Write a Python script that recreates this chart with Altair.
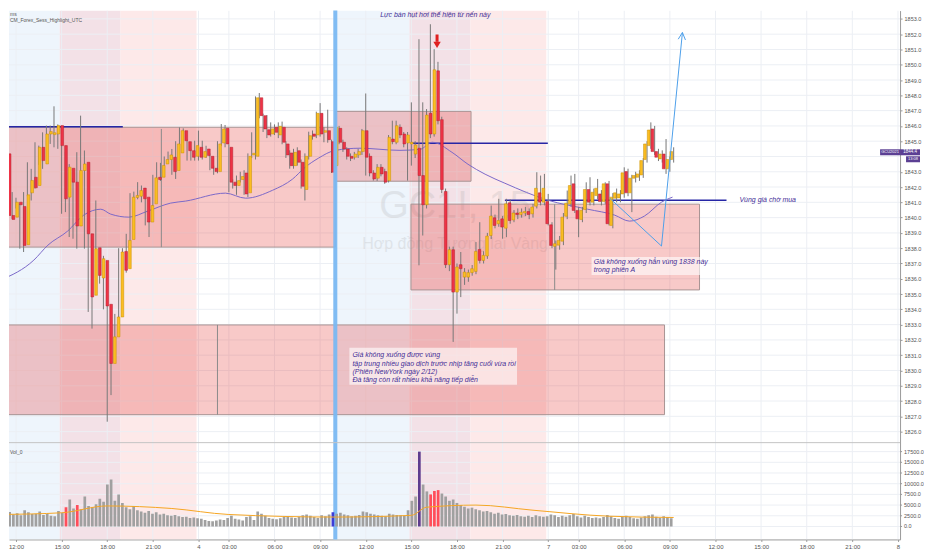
import altair as alt
import pandas as pd

# ---------------- data (15-minute candles, index 0 = 11:00 of first day) ----------------
opens = [1843.73,1844.17,1840.14,1840.03,1841.01,1840.73,1838.23,1841.62,1842.64,1842.10,
1844.60,1843.51,1845.47,1845.43,1845.47,1846.02,1844.71,1841.34,1843.23,1842.32,
1839.45,1843.08,1843.62,1838.94,1834.92,1838.03,1836.05,1837.20,1834.33,1830.46,
1832.20,1833.50,1837.79,1836.66,1838.57,1841.32,1841.40,1841.93,1841.34,1839.71,
1840.90,1842.64,1842.64,1843.51,1843.80,1843.95,1843.08,1844.23,1845.69,1844.97,
1844.38,1844.01,1844.60,1843.95,1844.49,1844.01,1843.23,1843.01,1844.88,1845.84,
1844.60,1842.32,1842.10,1842.49,1842.92,1841.62,1844.10,1844.01,1847.84,1846.67,
1845.75,1845.47,1845.91,1845.41,1845.91,1844.82,1844.23,1843.40,1844.38,1843.62,
1841.84,1844.01,1845.47,1845.41,1846.82,1845.58,1845.69,1844.97,1843.40,1845.84,
1844.93,1844.49,1844.01,1843.95,1844.10,1844.32,1845.69,1844.01,1842.92,1842.58,
1843.29,1843.01,1842.42,1845.14,1844.93,1845.91,1845.47,1844.88,1844.82,1844.16,
1844.54,1842.75,1840.84,1846.82,1845.47,1849.60,1846.41,1841.71,1836.92,1837.90,
1835.13,1836.92,1836.11,1836.11,1836.40,1836.48,1837.92,1837.20,1837.49,1838.83,
1839.99,1839.60,1839.92,1839.31,1840.97,1839.85,1840.30,1840.20,1840.30,1840.40,
1840.25,1840.75,1841.62,1841.01,1841.05,1839.53,1838.12,1838.20,1838.46,1840.09,
1840.90,1842.21,1840.47,1839.88,1840.53,1841.84,1841.01,1841.44,1841.55,1841.05,
1842.21,1839.49,1841.27,1841.29,1841.55,1843.01,1841.62,1842.58,1842.64,1842.79,
1843.80,1844.71,1845.80,1844.32,1843.84,1844.16,1843.19,1843.80]
highs = [1844.40,1844.28,1840.36,1841.67,1841.30,1840.90,1841.67,1843.62,1843.19,1844.93,
1844.71,1845.58,1846.02,1846.02,1847.28,1846.10,1844.80,1844.28,1843.50,1842.60,
1844.28,1846.67,1844.39,1839.20,1838.30,1841.12,1837.60,1837.50,1834.60,1832.40,
1833.70,1838.00,1838.00,1838.94,1841.60,1841.70,1842.32,1842.10,1841.50,1841.00,
1842.80,1843.62,1843.58,1844.00,1844.32,1844.49,1845.00,1845.90,1845.84,1845.10,
1844.50,1845.03,1845.69,1845.03,1844.70,1844.20,1843.40,1845.00,1846.12,1846.06,
1844.80,1842.50,1842.75,1843.00,1843.10,1844.20,1845.58,1847.93,1848.15,1846.80,
1846.71,1846.23,1846.10,1846.23,1846.28,1845.00,1844.40,1844.50,1844.60,1843.80,
1844.20,1845.62,1845.70,1846.93,1847.49,1845.90,1847.06,1845.10,1846.10,1846.00,
1845.10,1844.60,1844.20,1844.30,1844.50,1845.80,1848.12,1844.20,1843.10,1843.50,
1843.50,1843.20,1845.40,1846.34,1846.34,1846.10,1845.60,1845.60,1847.54,1845.00,
1851.67,1847.54,1847.10,1852.65,1851.02,1850.19,1846.60,1841.90,1838.10,1838.10,
1837.00,1837.75,1836.70,1836.60,1836.90,1838.40,1839.70,1837.80,1839.00,1840.79,
1840.20,1841.23,1840.10,1841.23,1841.20,1840.50,1840.60,1840.60,1840.70,1840.60,
1840.90,1842.97,1842.75,1842.86,1841.55,1839.70,1838.50,1838.80,1840.30,1841.77,
1842.75,1842.86,1840.70,1840.70,1842.31,1842.64,1841.90,1842.53,1841.80,1842.31,
1842.40,1841.60,1841.90,1841.80,1843.29,1843.20,1842.80,1843.00,1843.10,1843.90,
1845.00,1846.23,1846.00,1844.50,1844.40,1845.14,1844.00,1844.60]
lows = [1843.50,1839.45,1839.45,1839.92,1840.60,1837.97,1837.75,1841.40,1841.12,1841.90,
1843.45,1843.19,1844.71,1844.82,1844.60,1844.50,1840.25,1840.36,1838.73,1838.62,
1837.97,1842.90,1837.97,1833.83,1832.74,1836.00,1835.68,1834.00,1826.65,1828.39,
1831.90,1833.30,1836.44,1836.40,1838.30,1841.10,1841.20,1841.00,1839.49,1838.73,
1840.70,1842.30,1842.40,1843.30,1843.60,1842.80,1842.53,1844.00,1844.90,1843.73,
1843.73,1843.73,1843.73,1843.80,1843.90,1843.10,1842.80,1842.90,1844.70,1844.60,
1841.66,1841.90,1841.49,1842.30,1841.49,1841.35,1843.90,1843.80,1846.50,1845.60,
1845.20,1845.30,1845.40,1845.20,1844.80,1843.90,1843.20,1843.20,1843.40,1841.90,
1841.12,1843.80,1845.10,1845.20,1845.30,1844.93,1844.90,1842.92,1843.20,1844.80,
1844.30,1843.80,1843.70,1843.80,1843.90,1844.10,1842.75,1842.70,1842.42,1842.40,
1842.70,1842.21,1842.30,1844.80,1844.80,1845.20,1844.60,1842.42,1843.40,1843.90,
1836.88,1838.83,1840.60,1845.20,1845.30,1846.10,1841.60,1836.70,1836.50,1831.87,
1833.72,1834.80,1835.60,1835.80,1836.20,1836.30,1837.00,1837.00,1837.30,1838.60,
1839.30,1839.40,1838.62,1838.72,1839.60,1839.70,1839.90,1840.00,1840.10,1839.90,
1840.00,1840.60,1840.80,1840.80,1839.49,1838.00,1836.60,1837.90,1838.20,1839.90,
1840.70,1840.30,1838.72,1839.70,1840.30,1840.80,1840.80,1841.20,1840.80,1840.90,
1839.49,1839.30,1841.00,1841.00,1841.30,1841.40,1840.36,1842.30,1842.40,1842.60,
1843.60,1844.50,1844.10,1843.70,1843.60,1842.86,1843.00,1843.60]
closes = [1844.10,1840.14,1839.88,1841.01,1840.84,1838.18,1841.49,1842.43,1841.95,1844.60,
1843.73,1845.47,1845.63,1845.55,1846.02,1844.71,1841.23,1843.30,1842.32,1839.45,
1843.08,1843.51,1838.94,1834.81,1837.97,1836.22,1837.31,1834.22,1830.46,1832.20,
1833.50,1837.75,1836.55,1838.51,1841.34,1841.45,1841.77,1841.23,1839.71,1840.79,
1842.60,1842.49,1843.41,1843.80,1844.10,1843.01,1844.82,1845.69,1845.03,1844.38,
1843.95,1844.71,1843.95,1844.32,1844.06,1843.23,1843.01,1844.82,1845.80,1844.82,
1842.32,1842.10,1842.42,1842.69,1841.55,1844.01,1844.21,1847.84,1846.67,1845.80,
1845.41,1845.80,1845.58,1845.97,1844.93,1844.10,1843.40,1844.27,1843.62,1842.05,
1844.01,1845.36,1845.32,1846.82,1845.47,1845.69,1845.10,1842.97,1845.91,1844.93,
1844.49,1844.01,1843.88,1844.16,1844.32,1845.69,1843.95,1842.92,1842.53,1843.29,
1842.86,1842.32,1845.25,1844.97,1846.01,1845.41,1844.82,1845.41,1844.93,1844.75,
1842.75,1840.84,1846.71,1845.47,1849.67,1846.34,1841.84,1836.92,1837.90,1835.13,
1836.77,1836.66,1836.44,1836.40,1836.66,1837.79,1837.20,1837.53,1838.79,1840.10,
1839.49,1839.81,1839.38,1840.90,1839.81,1840.30,1840.20,1840.35,1840.40,1840.20,
1840.69,1841.92,1841.01,1841.92,1839.60,1838.18,1838.29,1838.51,1840.03,1840.94,
1842.10,1840.47,1839.92,1840.47,1841.84,1841.01,1841.66,1841.92,1841.05,1842.21,
1839.60,1841.34,1841.62,1841.55,1842.93,1841.62,1842.58,1842.75,1842.86,1843.73,
1844.82,1845.73,1844.32,1843.95,1844.16,1843.19,1843.80,1844.32]
volumes = [3000,3400,2800,3100,2600,3800,3300,2900,3000,3500,2700,3000,2500,2400,3600,3200,
4500,6300,4200,5000,4000,7000,4800,4500,5200,6500,5800,9800,11000,6000,7500,5500,
4500,4000,4800,3800,3500,3200,3600,3000,3300,2800,3000,2600,2500,2700,2400,2200,2300,2000,2100,1900,
1800,1500,1300,1200,1400,1600,1500,2000,2500,1800,1600,1400,2200,2400,1500,3500,3000,2500,
2000,1800,1700,1900,2200,2400,2100,2000,2300,2600,2800,2500,2200,2000,2600,2400,2800,3300,
3000,3200,2800,2600,2400,2500,2700,3500,3300,3000,2800,2600,2500,2400,3000,2800,2700,2600,2500,3800,
6000,7000,17500,9800,8200,7500,8300,8500,7700,7000,6000,6300,5500,
5000,4600,4200,4400,4000,3800,3500,3600,3300,3000,3200,2800,2900,2600,2500,2700,2400,2300,2500,2200,2600,2400,2300,
2400,2800,2600,2200,2500,2300,2600,2900,2400,2100,2500,2200,2000,2100,1900,2200,2700,2400,2000,1800,
2300,2500,2200,1900,1800,2100,2400,2600,2800,2300,2000,2400,2200,1900]
vol_red_idx = [16, 19, 113, 114, 115]
vol_purple_idx = [110]
vol_blue_idx = [87]

# moving average (index, price)
ma_i = [0,8.7,12.4,17.6,21.8,26.3,28.9,33.7,38.6,44.7,48.6,59.1,64.4,71.5,76.7,80.1,83.5,88,94.5,105,
        110.3,113.5,118.7,122.9,127.4,132.6,143.9,154.4,161.5,165.4,169.3,173.8,176.7]
ma_p = [1835.92,1837.22,1838.20,1839.12,1840.16,1840.55,1840.23,1840.03,1840.42,1840.95,1841.08,1841.60,
        1841.27,1841.79,1842.51,1843.30,1843.88,1844.40,1844.54,1844.40,1844.47,1844.93,1844.27,1843.49,
        1842.84,1842.25,1841.14,1840.55,1840.16,1839.77,1840.10,1841.01,1841.34]
vma_i = [0,16,28,45,60,88,108,112,125,140,160,177]
vma_v = [2800,3200,4800,4200,2800,2200,2600,4500,5000,3800,2400,2100]

# sessions
sess_s = [-5, 15.5, 31.5, 87.5, 107.5, 123.5]
sess_e = [15.5, 31.5, 51.5, 107.5, 123.5, 143.5]
sess_k = ["London", "Overlap", "NewYork", "London", "Overlap", "NewYork"]
# zones
zone_x1 = [-1, -1, 88.0, 107.9]
zone_x2 = [88.0, 174.6, 123.7, 183.8]
zone_p1 = [1845.91, 1832.98, 1846.95, 1840.88]
zone_p2 = [1838.07, 1827.11, 1842.38, 1835.27]
# horizontal levels
lvl_x1 = [-1, 108.2, 132.6]
lvl_x2 = [32.1, 143.9, 190.9]
lvl_p = [1845.95, 1844.86, 1841.14]
# thin vertical markers
vm_i = [42.24, 57.0, 145.7]
vm_p1 = [1845.80, 1832.98, 1840.88]
vm_p2 = [1838.07, 1827.11, 1835.27]
# projected path
path_i = [160.2, 173.8, 179.3]
path_p = [1841.27, 1838.14, 1852.11]
head_i = [178.2, 180.1]
head_p = [1851.67, 1851.62]

tick_i = [4,16,28,40,52,60,72,84,96,108,120,132,144,152,164,176,188,200,212,224,236]
tick_l = ["12:00","15:00","18:00","21:00","4","03:00","06:00","09:00","12:00","15:00","18:00",
          "21:00","7","03:00","06:00","09:00","12:00","15:00","18:00","21:00","8"]
price_grid = [1826 + k for k in range(28)]
price_labels = [p for p in price_grid if p != 1844]
vol_ticks = [0, 2500, 5000, 7500, 10000, 12500, 15000, 17500]

note1 = "Lực bán hụt hơi thể hiện từ nến này"
note2 = ["Giá không xuống được vùng",
         "tập trung nhiều giao dịch trước nhịp tăng cuối vừa rồi",
         "(Phiên NewYork ngày 2/12)",
         "Đà tăng còn rất nhiều khả năng tiếp diễn"]
note2_p = [1831.02, 1830.44, 1829.91, 1829.39]
note3 = ["Giá không xuống hẳn vùng 1838 này", "trong phiên A"]
note3_p = [1837.09, 1836.57]
note4 = "Vùng giá chờ mua"
last_price = "1844.4"
symbol = "GCU2021"
countdown = "13:08"

# ---------------- chart (one panel: price on top, volume at the bottom) ----------------
W, H = 893, 530
PRICE_H = 432
X0, X1 = 2.163, 236.55
xs = alt.Scale(domain=[X0, X1], nice=False, zero=False)
ys = alt.Scale(domain=[1818.948, 1853.543], nice=False, zero=False)
vs = alt.Scale(domain=[-3033, 120633], nice=False, zero=False)
FONT = "Liberation Sans"
TXT = "#3f2d96"
PURP = "#5b3f93"

AX_Y = alt.Axis(orient="right", values=price_labels, format=".1f", labelFontSize=5.5, labelColor="#555",
                labelFont=FONT, tickSize=2, tickColor="#999", domainColor="#9a9a9a", grid=False,
                labelPadding=2, title=None)
lab_expr = "[" + ",".join("'%s'" % s for s in tick_l) + "][indexof([" + ",".join(str(t) for t in tick_i) + "], datum.value)]"
AX_X = alt.Axis(orient="bottom", values=tick_i, labelExpr=lab_expr, labelFontSize=6, labelColor="#555",
                labelFont=FONT, tickSize=2, tickColor="#999", domainColor="#9a9a9a", grid=False,
                labelPadding=2, labelFlush=False, title=None)

n = len(opens)
cd = pd.DataFrame({"i": list(range(n)), "o": opens, "h": highs, "l": lows, "c": closes, "v": volumes})
cd["dir"] = ["up" if c >= o else "down" for o, c in zip(opens, closes)]
cd["blo"] = cd[["o", "c"]].min(axis=1)
cd["bhi"] = cd[["o", "c"]].max(axis=1)
cd["vk"] = ["red" if k in vol_red_idx else "purple" if k in vol_purple_idx else "blue" if k in vol_blue_idx else "gray" for k in range(n)]

sess = pd.DataFrame({"s": sess_s, "e": sess_e, "k": sess_k})
sess_fill = alt.Fill("k:N", scale=alt.Scale(domain=["London", "Overlap", "NewYork"],
                                             range=["#eef5fc", "#f3e1e7", "#fde9e9"]), legend=None)


def X(f):
    return alt.X(f, scale=xs, axis=None, title=None)


def Y(f):
    return alt.Y(f, scale=ys, axis=None, title=None)


def YV(f):
    return alt.Y(f, scale=vs, axis=None, title=None)


l_sess = alt.Chart(sess).mark_rect(clip=True).encode(x=X("s:Q"), x2="e:Q", fill=sess_fill)
l_hgrid = alt.Chart(pd.DataFrame({"p": price_grid})).mark_rule(color="#eceff4", strokeWidth=1, clip=True).encode(
    y=alt.Y("p:Q", scale=ys, axis=AX_Y, title=None))
l_vgrid = alt.Chart(pd.DataFrame({"t": tick_i})).mark_rule(color="#eceff4", strokeWidth=1, clip=True).encode(
    x=alt.X("t:Q", scale=xs, axis=AX_X, title=None))
l_vlgrid = alt.Chart(pd.DataFrame({"v": vol_ticks})).mark_rule(color="#eceff4", strokeWidth=1, clip=True).encode(
    y=YV("v:Q"))

l_wm = alt.Chart(pd.DataFrame({"i": [119.5, 119.5], "p": [1840.68, 1838.27], "t": ["GC1!, 15", "Hợp đồng Tương lai Vàng"],
                               "s": [38, 16]})).mark_text(color="#a8a8a8", opacity=0.22, font=FONT).encode(
    x=X("i:Q"), y=Y("p:Q"), text="t:N", size=alt.Size("s:Q", scale=None, legend=None))

zones = pd.DataFrame({"x1": zone_x1, "x2": zone_x2, "p1": zone_p1, "p2": zone_p2})
l_zone = alt.Chart(zones).mark_rect(fill="#e53935", fillOpacity=0.27, stroke="#a89494", strokeWidth=1,
                                    clip=True).encode(x=X("x1:Q"), x2="x2:Q", y=Y("p1:Q"), y2="p2:Q")

lv = pd.DataFrame({"x1": lvl_x1, "x2": lvl_x2, "p": lvl_p})
l_lvl = alt.Chart(lv).mark_rule(color="#2626a6", strokeWidth=1.5, clip=True).encode(x=X("x1:Q"), x2="x2:Q", y=Y("p:Q"))

l_ma = alt.Chart(pd.DataFrame({"i": ma_i, "p": ma_p})).mark_line(color="#7b68c8", strokeWidth=1,
                                                                  interpolate="monotone", clip=True).encode(x=X("i:Q"), y=Y("p:Q"))

vmk = pd.DataFrame({"i": vm_i, "p1": vm_p1, "p2": vm_p2})
l_vm = alt.Chart(vmk).mark_rule(color="#8a8a8a", strokeWidth=1).encode(x=X("i:Q"), y=Y("p1:Q"), y2="p2:Q")

l_wick = alt.Chart(cd).mark_rule(color="#777777", strokeWidth=1, clip=True).encode(x=X("i:Q"), y=Y("l:Q"), y2="h:Q")
l_body = alt.Chart(cd).mark_bar(size=2.7, strokeWidth=0.5, clip=True).transform_calculate(
    bh="max(datum.bhi, datum.blo + 0.06)").encode(
    x=X("i:Q"), y=Y("blo:Q"), y2="bh:Q",
    color=alt.Color("dir:N", scale=alt.Scale(domain=["up", "down"], range=["#fbbd22", "#ee3346"]), legend=None),
    stroke=alt.Stroke("dir:N", scale=alt.Scale(domain=["up", "down"], range=["#c98f00", "#b3202f"]), legend=None))

l_path = alt.Chart(pd.DataFrame({"i": path_i, "p": path_p, "o": [0, 1, 2]})).mark_line(
    color="#4da0ea", strokeWidth=1).encode(x=X("i:Q"), y=Y("p:Q"), order="o:Q")
l_head = alt.Chart(pd.DataFrame({"i": head_i, "p": head_p, "ti": [path_i[2]] * 2, "tp": [path_p[2]] * 2})).mark_rule(
    color="#4da0ea", strokeWidth=1).encode(x=X("i:Q"), x2="ti:Q", y=Y("p:Q"), y2="tp:Q")

l_arr_s = alt.Chart(pd.DataFrame({"i": [114.76], "p1": [1851.98], "p2": [1851.50]})).mark_rule(
    color="#e02020", strokeWidth=3).encode(x=X("i:Q"), y=Y("p1:Q"), y2="p2:Q")
l_arr_h = alt.Chart(pd.DataFrame({"i": [114.76], "p": [1851.30]})).mark_point(
    shape="triangle-down", filled=True, color="#e02020", size=55, opacity=1).encode(x=X("i:Q"), y=Y("p:Q"))

boxes = pd.DataFrame({"x1": [91.7, 155.4], "x2": [135.8, 185.1], "p1": [1831.48, 1837.42], "p2": [1829.07, 1836.25]})
l_box = alt.Chart(boxes).mark_rect(fill="white", opacity=0.6).encode(x=X("x1:Q"), x2="x2:Q", y=Y("p1:Q"), y2="p2:Q")

notes = pd.DataFrame({
    "i": [99.8] + [92.5] * 4 + [156.0] * 2 + [194.3],
    "p": [1853.28] + note2_p + note3_p + [1841.14],
    "t": [note1] + note2 + note3 + [note4]})
l_notes = alt.Chart(notes).mark_text(align="left", baseline="middle", fontSize=7, fontStyle="italic",
                                     font=FONT, color=TXT).encode(x=X("i:Q"), y=Y("p:Q"), text="t:N")

l_blue = alt.Chart(pd.DataFrame({"i": [88.0]})).mark_rule(color="#7ab8f2", strokeWidth=4, opacity=0.95).encode(x=X("i:Q"))

l_sep = alt.Chart(pd.DataFrame({"a": [0]})).mark_rule(color="#c4c4c4", strokeWidth=1).encode(
    x=alt.value(0), x2=alt.value(W), y=alt.value(PRICE_H + 1))

l_tl1 = alt.Chart(pd.DataFrame({"t": ["ms"]})).mark_text(align="left", baseline="middle", fontSize=5,
                                                        color="#555", font=FONT).encode(
    x=alt.value(1), y=alt.value(3), text="t:N")
l_tl2 = alt.Chart(pd.DataFrame({"t": ["CM_Forex_Sess_Highlight_UTC"]})).mark_text(
    align="left", baseline="middle", fontSize=5, color="#555", font=FONT).encode(
    x=alt.value(1), y=alt.value(9), text="t:N")

tag_a = alt.Chart(pd.DataFrame({"a": [0]})).mark_rect(color=PURP).encode(
    x=alt.value(873), x2=alt.value(893), y=alt.value(139), y2=alt.value(145))
tag_b = alt.Chart(pd.DataFrame({"a": [0]})).mark_rect(color=PURP).encode(
    x=alt.value(893), x2=alt.value(913), y=alt.value(139), y2=alt.value(145))
tag_c = alt.Chart(pd.DataFrame({"a": [0]})).mark_rect(color=PURP).encode(
    x=alt.value(899), x2=alt.value(913), y=alt.value(146), y2=alt.value(152))
tag_ta = alt.Chart(pd.DataFrame({"t": [symbol]})).mark_text(color="white", fontSize=4, font=FONT,
                                                            baseline="middle").encode(
    x=alt.value(883), y=alt.value(142), text="t:N")
tag_tb = alt.Chart(pd.DataFrame({"t": [last_price]})).mark_text(color="white", fontSize=4.5, font=FONT,
                                                                baseline="middle").encode(
    x=alt.value(903), y=alt.value(142), text="t:N")
tag_tc = alt.Chart(pd.DataFrame({"t": [countdown]})).mark_text(color="white", fontSize=4, font=FONT,
                                                               baseline="middle").encode(
    x=alt.value(906), y=alt.value(149), text="t:N")

# volume layers
v_bars = alt.Chart(cd).mark_bar(size=2.7, clip=True).encode(
    x=X("i:Q"), y=YV("v:Q"), y2=alt.datum(0),
    color=alt.Color("vk:N", scale=alt.Scale(domain=["gray", "red", "purple", "blue"],
                                            range=["#a0a0a0", "#ff4d5a", "#5e3c8e", "#3d3dd6"]), legend=None))
v_ma = alt.Chart(pd.DataFrame({"i": vma_i, "v": vma_v})).mark_line(color="#f5a623", strokeWidth=1,
                                                                   interpolate="monotone", clip=True).encode(
    x=X("i:Q"), y=YV("v:Q"))
v_lab = alt.Chart(pd.DataFrame({"t": ["Vol_0"]})).mark_text(align="left", baseline="middle", fontSize=5,
                                                           color="#555", font=FONT).encode(
    x=alt.value(1), y=alt.value(PRICE_H + 10), text="t:N")
vt = pd.DataFrame({"v": vol_ticks, "t": ["%.1f" % v for v in vol_ticks]})
v_axl = alt.Chart(vt).mark_text(align="left", baseline="middle", fontSize=5.5, color="#555", font=FONT).encode(
    x=alt.value(W + 4), y=YV("v:Q"), text="t:N")
v_axt = alt.Chart(vt).mark_rule(color="#999", strokeWidth=1).encode(
    x=alt.value(W), x2=alt.value(W + 2), y=YV("v:Q"))

chart = alt.layer(l_sess, l_hgrid, l_vgrid, l_vlgrid, l_wm, l_zone, l_lvl, l_ma, l_vm, l_wick, l_body,
                  l_path, l_head, l_arr_s, l_arr_h, l_box, l_notes, l_blue, l_sep, l_tl1, l_tl2,
                  tag_a, tag_b, tag_c, tag_ta, tag_tb, tag_tc,
                  v_bars, v_ma, v_lab, v_axl, v_axt).resolve_scale(
    x="independent", y="independent", color="independent", fill="independent", stroke="independent"
).properties(width=W, height=H, padding=0, background="white").configure_view(stroke=None)

chart.save("out.html", embed_options={"renderer": "svg", "actions": False})
